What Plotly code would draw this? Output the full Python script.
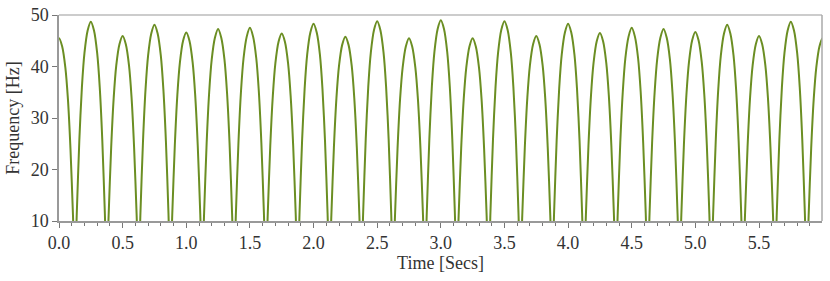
import plotly.graph_objects as go

# Lobe centres (s) and sampled frequency profile around each lobe (Hz),
# read from the reference picture.
lobe_centers = [0.0, 0.25, 0.5, 0.75, 1.0, 1.25, 1.5, 1.75, 2.0, 2.25, 2.5, 2.75, 3.0,
                3.25, 3.5, 3.75, 4.0, 4.25, 4.5, 4.75, 5.0, 5.25, 5.5, 5.75, 6.0]
lobe_offsets = [-0.11, -0.09, -0.07, -0.05, -0.025, 0.0, 0.025, 0.05, 0.07, 0.09, 0.11]
lobe_profiles = [
    [11.0, 24.1, 33.7, 39.8, 43.9, 45.5, 43.9, 39.8, 33.7, 24.1, 11.0],
    [11.7, 25.8, 36.0, 42.6, 47.0, 48.7, 47.0, 42.6, 36.0, 25.8, 11.7],
    [11.1, 24.3, 34.0, 40.2, 44.3, 45.9, 44.3, 40.2, 34.0, 24.3, 11.1],
    [11.6, 25.5, 35.6, 42.1, 46.4, 48.1, 46.4, 42.1, 35.6, 25.5, 11.6],
    [11.3, 24.7, 34.5, 40.8, 45.0, 46.6, 45.0, 40.8, 34.5, 24.7, 11.3],
    [11.4, 25.1, 35.0, 41.4, 45.6, 47.3, 45.6, 41.4, 35.0, 25.1, 11.4],
    [11.5, 25.2, 35.2, 41.6, 45.8, 47.5, 45.8, 41.6, 35.2, 25.2, 11.5],
    [11.2, 24.6, 34.3, 40.6, 44.8, 46.4, 44.8, 40.6, 34.3, 24.6, 11.2],
    [11.6, 25.6, 35.7, 42.3, 46.6, 48.3, 46.6, 42.3, 35.7, 25.6, 11.6],
    [11.1, 24.3, 33.9, 40.1, 44.2, 45.8, 44.2, 40.1, 33.9, 24.3, 11.1],
    [11.7, 25.9, 36.1, 42.7, 47.1, 48.8, 47.1, 42.7, 36.1, 25.9, 11.7],
    [11.0, 24.1, 33.7, 39.8, 43.9, 45.5, 43.9, 39.8, 33.7, 24.1, 11.0],
    [11.8, 26.0, 36.3, 42.9, 47.3, 49.0, 47.3, 42.9, 36.3, 26.0, 11.8],
    [11.0, 24.1, 33.7, 39.8, 43.9, 45.5, 43.9, 39.8, 33.7, 24.1, 11.0],
    [11.7, 25.9, 36.1, 42.7, 47.1, 48.8, 47.1, 42.7, 36.1, 25.9, 11.7],
    [11.1, 24.3, 34.0, 40.2, 44.3, 45.9, 44.3, 40.2, 34.0, 24.3, 11.1],
    [11.6, 25.6, 35.7, 42.3, 46.6, 48.3, 46.6, 42.3, 35.7, 25.6, 11.6],
    [11.2, 24.6, 34.4, 40.7, 44.9, 46.5, 44.9, 40.7, 34.4, 24.6, 11.2],
    [11.5, 25.2, 35.2, 41.6, 45.8, 47.5, 45.8, 41.6, 35.2, 25.2, 11.5],
    [11.4, 25.1, 35.0, 41.4, 45.6, 47.3, 45.6, 41.4, 35.0, 25.1, 11.4],
    [11.3, 24.8, 34.6, 40.9, 45.1, 46.7, 45.1, 40.9, 34.6, 24.8, 11.3],
    [11.6, 25.5, 35.6, 42.1, 46.4, 48.1, 46.4, 42.1, 35.6, 25.5, 11.6],
    [11.1, 24.3, 34.0, 40.2, 44.3, 45.9, 44.3, 40.2, 34.0, 24.3, 11.1],
    [11.7, 25.8, 36.0, 42.6, 47.0, 48.7, 47.0, 42.6, 36.0, 25.8, 11.7],
    [11.0, 24.1, 33.7, 39.8, 43.9, 45.5, 43.9, 39.8, 33.7, 24.1, 11.0],
]
dip_offset = 0.125
dip_value = 0.0  # below the visible range (estimated)

x_ticks = [0.0, 0.5, 1.0, 1.5, 2.0, 2.5, 3.0, 3.5, 4.0, 4.5, 5.0, 5.5]
x_tick_labels = ["0.0", "0.5", "1.0", "1.5", "2.0", "2.5", "3.0", "3.5", "4.0", "4.5", "5.0", "5.5"]
y_ticks = [10, 20, 30, 40, 50]

time_s, freq_hz = [], []
for i, (c, prof) in enumerate(zip(lobe_centers, lobe_profiles)):
    for o, v in zip(lobe_offsets, prof):
        time_s.append(c + o)
        freq_hz.append(v)
    if i < len(lobe_centers) - 1:
        time_s.append(c + dip_offset)
        freq_hz.append(dip_value)

LINE = "#6b8e23"
FONT = "'Liberation Serif', 'DejaVu Serif', serif"

fig = go.Figure(go.Scatter(
    x=time_s, y=freq_hz, mode="lines",
    line=dict(color=LINE, width=2, shape="spline", smoothing=0.8),
    hoverinfo="skip", showlegend=False,
))

fig.update_layout(
    width=830, height=281,
    margin=dict(l=59, r=8, t=15, b=60),
    paper_bgcolor="white", plot_bgcolor="white",
    font=dict(family=FONT, size=18, color="#333333"),
    xaxis=dict(
        range=[0, 5.995], showgrid=False, zeroline=False,
        tickvals=x_ticks, ticktext=x_tick_labels,
        ticks="outside", ticklen=5, tickwidth=1, tickcolor="#777777",
        minor=dict(dtick=0.1, tick0=0, ticks="outside", ticklen=3, tickwidth=1, tickcolor="#777777"),
        showline=True, linecolor="#999999", linewidth=1.5,
        title=dict(text="Time [Secs]", standoff=4, font=dict(family=FONT, size=18)),
        tickfont=dict(family=FONT, size=18), automargin=False,
    ),
    yaxis=dict(
        range=[10, 50], showgrid=False, zeroline=False,
        tickvals=y_ticks,
        ticks="outside", ticklen=5, tickwidth=1, tickcolor="#777777",
        showline=True, linecolor="#999999", linewidth=1.5,
        title=dict(text="Frequency [Hz]", standoff=6, font=dict(family=FONT, size=18)),
        tickfont=dict(family=FONT, size=18), automargin=False,
    ),
    shapes=[
        dict(type="line", xref="paper", yref="paper", x0=0, x1=1, y0=1, y1=1,
             line=dict(color="#bbbbbb", width=1.5)),
        dict(type="line", xref="paper", yref="paper", x0=1, x1=1, y0=0, y1=1,
             line=dict(color="#aaaaaa", width=1.5)),
    ],
)

fig.write_html(
    "out.html",
    config={"displayModeBar": False},
    post_script="document.body.style.margin='0';document.body.style.overflow='hidden';",
)
